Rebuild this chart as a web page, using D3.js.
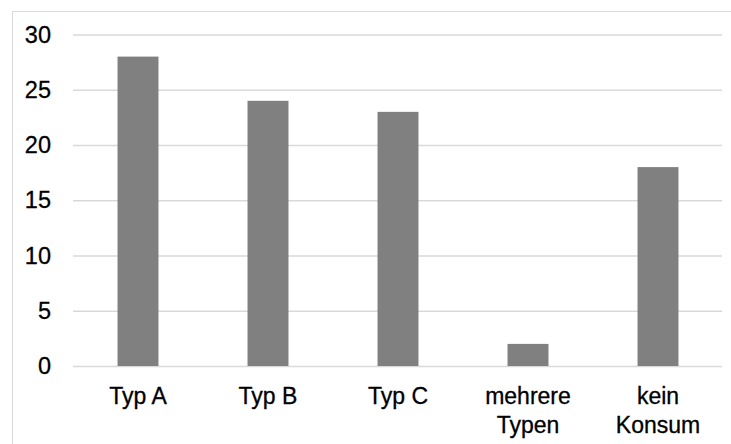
<!DOCTYPE html>
<html>
<head>
<meta charset="utf-8">
<script src="https://cdn.jsdelivr.net/npm/d3@7"></script>
<style>
html,body{margin:0;padding:0;background:#fff;}
svg{display:block;}
text{font-family:"Liberation Sans",Arial,sans-serif;fill:#000;}
</style>
</head>
<body>
<svg id="chart" width="731" height="444"></svg>
<script>
const categories = [["Typ A"], ["Typ B"], ["Typ C"], ["mehrere", "Typen"], ["kein", "Konsum"]];
const values = [28, 24, 23, 2, 18];
const yTicks = [0, 5, 10, 15, 20, 25, 30];

const svg = d3.select("#chart");
const W = 731, H = 444;

// chart border
svg.append("rect")
  .attr("x", 12.5).attr("y", 11.5)
  .attr("width", W + 10).attr("height", H + 10)
  .attr("fill", "none").attr("stroke", "#d9d9d9").attr("stroke-width", 1);

const x = d3.scaleBand()
  .domain(categories.map((d, i) => i))
  .range([73, 723])
  .paddingInner(0.685).paddingOuter(0.3425);

const y = d3.scaleLinear().domain([0, 30]).range([366, 34.5]);

// gridlines
const yAxis = d3.axisLeft(y).tickValues(yTicks).tickSize(-(722 - 73)).tickPadding(22);
const gy = svg.append("g").attr("transform", "translate(73,0)").call(yAxis);
gy.select(".domain").remove();
gy.selectAll(".tick line").attr("stroke", "#d9d9d9").attr("stroke-width", 1.5);
gy.selectAll(".tick text")
  .attr("font-size", 23.5).attr("fill", "#000")
  .attr("stroke", "#000").attr("stroke-width", 0.3)
  .style("font-family", "'Liberation Sans', Arial, sans-serif");

// bars
svg.append("g").selectAll("rect").data(values).join("rect")
  .attr("x", (d, i) => x(i))
  .attr("width", x.bandwidth())
  .attr("y", d => y(d))
  .attr("height", d => y(0) - y(d))
  .attr("fill", "#808080");

// category labels
const xAxis = d3.axisBottom(x).tickSize(0).tickFormat(() => "");
const gx = svg.append("g").attr("transform", "translate(0,366)").call(xAxis);
gx.select(".domain").remove();
gx.selectAll(".tick").each(function(d) {
  const t = d3.select(this).append("text")
    .attr("text-anchor", "middle")
    .attr("font-size", 23)
    .attr("fill", "#000")
    .attr("stroke", "#000").attr("stroke-width", 0.3);
  categories[d].forEach((line, j) => {
    t.append("tspan").attr("x", 0).attr("y", 38 + j * 29).text(line);
  });
});
</script>
</body>
</html>
